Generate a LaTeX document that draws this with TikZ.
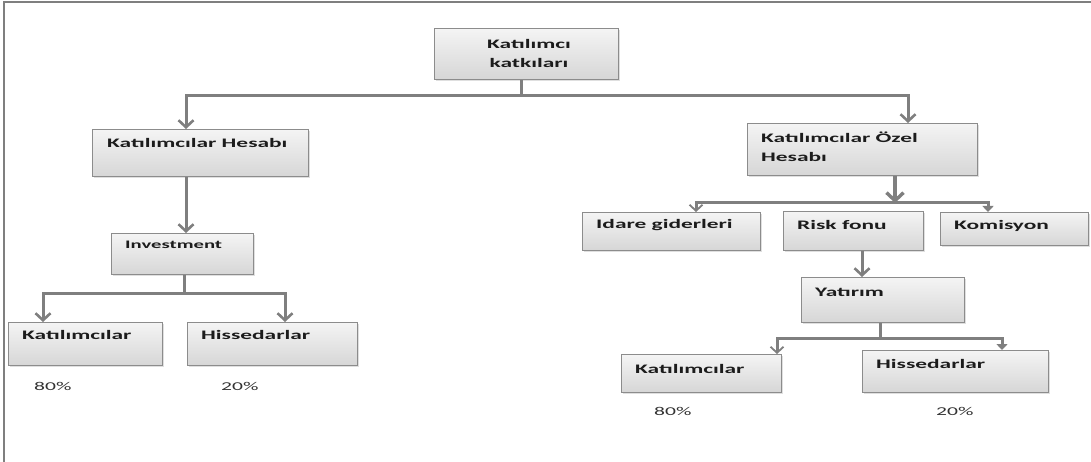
\documentclass[tikz,border=0pt]{standalone}
\usepackage{fontspec}
\setmainfont{Carlito}[FakeStretch=1.8]
\usetikzlibrary{arrows.meta,shadows}
\definecolor{linegray}{HTML}{7F7F7F}
\definecolor{boxedge}{HTML}{8C8C8C}
\definecolor{boxtop}{HTML}{F4F4F4}
\definecolor{boxbot}{HTML}{D6D6D6}
\definecolor{ink}{HTML}{1C1C1C}
\newcommand{\boxat}[4]{\node[box,anchor=north west,minimum width=#3pt,minimum height=#4pt] (#1) at (#2) {};}
\begin{document}
\begin{tikzpicture}[x=1pt,y=-1pt,
  box/.style={draw=boxedge,line width=1.3pt,rectangle,inner sep=0pt,
    top color=boxtop,bottom color=boxbot,
    drop shadow={shadow xshift=1.5pt,shadow yshift=-1.5pt,opacity=.25}},
  lbl/.style={anchor=west,inner sep=0pt,text=ink,font=\fontsize{13}{19}\selectfont\bfseries},
  pct/.style={anchor=west,inner sep=0pt,text=black!80,font=\fontsize{12}{14}\selectfont},
  conn/.style={draw=linegray,line width=3pt,line join=miter},
  arr/.style={-{Straight Barb[length=7pt,width=15pt,line width=2.6pt]}},
  thinarr/.style={-{Straight Barb[length=6pt,width=13pt,line width=1.8pt]}},
  fillarr/.style={-{Triangle[length=6pt,width=11pt]}}]
\useasboundingbox (0,0) rectangle (1091,462);
% outer frame (top and left edges)
\draw[linegray,line width=1.6pt] (1091,2) -- (4,2) -- (4,462);

% boxes: name, north-west corner, width, height
\boxat{top}{434,28}{184}{51}
\boxat{kh}{92,129}{216}{47}
\boxat{inv}{111,233}{142}{41}
\boxat{kL}{8,322}{154}{43}
\boxat{hL}{187,322}{170}{43}
\boxat{koh}{747,123}{230}{52}
\boxat{idare}{582,212}{178}{38}
\boxat{risk}{783,211}{140}{39}
\boxat{kom}{940,212}{148}{33}
\boxat{yat}{801,277}{163}{45}
\boxat{kR}{621,354}{160}{38}
\boxat{hR}{862,350}{186}{42}

% box texts
\node[lbl,anchor=center,align=center] (ttop) at (529,53) {Katılımcı\\katkıları};
\node[lbl] (tkh) at (107,143) {Katılımcılar Hesabı};
\node[lbl,font=\fontsize{11.5}{14}\selectfont\bfseries] (tinv) at (125,245) {Investment};
\node[lbl] (tkL) at (22,335) {Katılımcılar};
\node[lbl] (thL) at (201,335) {Hissedarlar};
\node[lbl,align=left] (tkoh) at (761,147) {Katılımcılar Özel\\Hesabı};
\node[lbl] (tidare) at (596,225) {Idare giderleri};
\node[lbl] (trisk) at (797,225) {Risk fonu};
\node[lbl] (tkom) at (954,226) {Komisyon};
\node[lbl] (tyat) at (815,292) {Yatırım};
\node[lbl] (tkR) at (635,369) {Katılımcılar};
\node[lbl] (thR) at (876,364) {Hissedarlar};

% shares
\node[pct] (p1) at (34,386) {80\%};
\node[pct] (p2) at (221,386) {20\%};
\node[pct] (p3) at (654,411) {80\%};
\node[pct] (p4) at (936,411) {20\%};

% junction points and arrow columns
\coordinate (j1) at (521,96);
\coordinate (c1) at (186,0);
\coordinate (c2) at (908,0);
\coordinate (j2) at (184,293);
\coordinate (c3) at (43,0);
\coordinate (c4) at (285,0);
\coordinate (c5) at (895,0);
\coordinate (j3) at (895,203);
\coordinate (c6) at (696,0);
\coordinate (c7) at (988,0);
\coordinate (c8) at (862,0);
\coordinate (j4) at (880,338);
\coordinate (c9) at (777,0);
\coordinate (c10) at (1002,0);

% top split
\draw[conn] (top.south -| j1) -- (j1);
\draw[conn,arr] (j1) -| (kh.north -| c1);
\draw[conn,arr] (j1) -| (koh.north -| c2);

% left branch
\draw[conn,arr] (kh.south -| c1) -- (inv.north -| c1);
\draw[conn] (inv.south -| j2) -- (j2);
\draw[conn,arr] (j2) -| (kL.north -| c3);
\draw[conn,arr] (j2) -| (hL.north -| c4);

% right branch
\draw[conn,line width=4pt,-{Straight Barb[length=8pt,width=17pt,line width=3.4pt]}] (koh.south -| c5) -- (j3);
\draw[conn,thinarr] (j3) -| (idare.north -| c6);
\draw[conn,fillarr] (j3) -| (kom.north -| c7);
\draw[conn,arr] (risk.south -| c8) -- (yat.north -| c8);
\draw[conn] (yat.south -| j4) -- (j4);
\draw[conn,thinarr] (j4) -| (kR.north -| c9);
\draw[conn,fillarr] (j4) -| (hR.north -| c10);
\end{tikzpicture}
\end{document}
